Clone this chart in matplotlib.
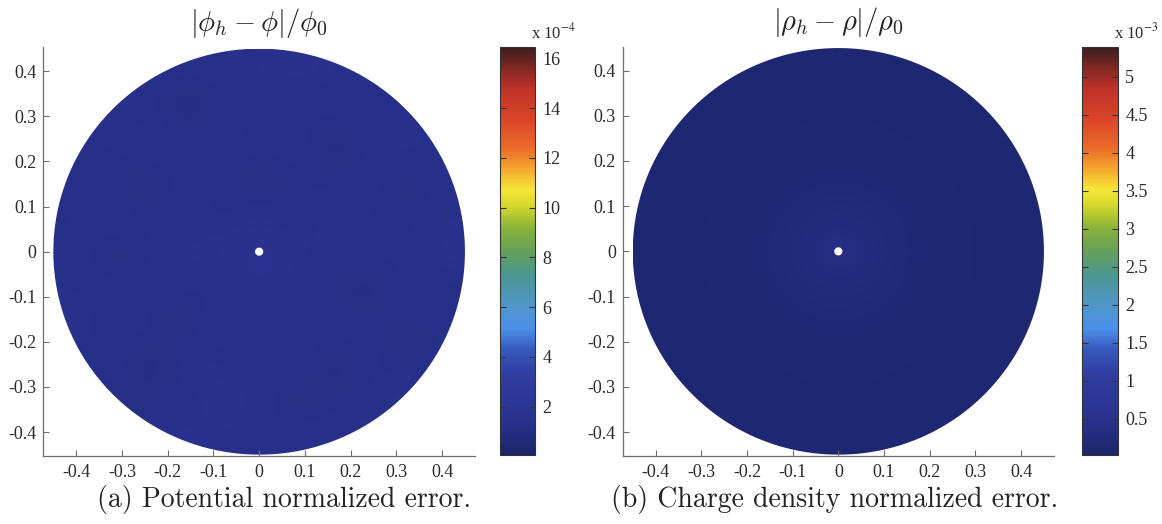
import numpy as np
import matplotlib
matplotlib.use("Agg")
import matplotlib.pyplot as plt
from matplotlib.colors import LinearSegmentedColormap
from matplotlib.path import Path
from matplotlib.patches import PathPatch
from matplotlib.ticker import FormatStrFormatter

plt.rcParams['font.family'] = 'Liberation Serif'
plt.rcParams['mathtext.fontset'] = 'cm'
plt.rcParams['axes.unicode_minus'] = False

# Geometry of the annular domain
DOMAIN_RADIUS = 0.45
HOLE_RADIUS = 0.009

# Normalized potential error on a coarse sampling grid (units of 1e-4)
phi_err = np.array([
    [1.3, 1.5, 1.1, 1.7, 1.3, 1.1, 1.5, 1.3, 1.7, 1.5, 1.3],
    [1.5, 0.9, 1.3, 1.1, 1.8, 1.5, 0.9, 1.3, 1.1, 1.7, 1.3],
    [1.1, 1.7, 0.8, 1.5, 1.3, 1.1, 1.7, 0.8, 1.5, 0.9, 1.5],
    [1.7, 1.1, 1.5, 0.9, 1.7, 1.3, 1.1, 1.5, 1.3, 1.1, 1.3],
    [1.3, 1.5, 1.1, 1.3, 1.1, 1.7, 1.3, 1.1, 0.9, 1.5, 1.1],
    [1.5, 0.9, 1.3, 1.7, 1.5, 1.8, 1.5, 1.3, 1.5, 1.1, 1.7],
    [1.1, 1.7, 1.1, 1.3, 1.1, 1.5, 1.1, 1.7, 1.1, 1.3, 1.3],
    [1.5, 1.3, 0.9, 1.5, 1.3, 0.9, 1.3, 1.1, 1.5, 0.9, 1.5],
    [1.3, 1.1, 1.7, 1.1, 1.7, 1.3, 1.5, 0.9, 1.3, 1.7, 1.1],
    [1.7, 1.5, 1.3, 0.9, 1.1, 1.5, 1.1, 1.5, 1.1, 1.3, 1.5],
    [1.3, 1.1, 1.5, 1.3, 1.5, 1.3, 1.7, 1.3, 1.5, 1.1, 1.3],
])

# Normalized charge density error on the same grid (units of 1e-3)
rho_err = np.array([
    [0.14, 0.15, 0.14, 0.15, 0.14, 0.15, 0.14, 0.15, 0.14, 0.15, 0.14],
    [0.15, 0.14, 0.15, 0.14, 0.15, 0.14, 0.15, 0.14, 0.15, 0.14, 0.15],
    [0.14, 0.15, 0.14, 0.15, 0.15, 0.16, 0.15, 0.15, 0.14, 0.15, 0.14],
    [0.15, 0.14, 0.15, 0.16, 0.17, 0.18, 0.17, 0.16, 0.15, 0.14, 0.15],
    [0.14, 0.15, 0.15, 0.17, 0.22, 0.26, 0.22, 0.17, 0.15, 0.15, 0.14],
    [0.15, 0.14, 0.16, 0.18, 0.26, 0.45, 0.26, 0.18, 0.16, 0.14, 0.15],
    [0.14, 0.15, 0.15, 0.17, 0.22, 0.26, 0.22, 0.17, 0.15, 0.15, 0.14],
    [0.15, 0.14, 0.15, 0.16, 0.17, 0.18, 0.17, 0.16, 0.15, 0.14, 0.15],
    [0.14, 0.15, 0.14, 0.15, 0.15, 0.16, 0.15, 0.15, 0.14, 0.15, 0.14],
    [0.15, 0.14, 0.15, 0.14, 0.15, 0.14, 0.15, 0.14, 0.15, 0.14, 0.15],
    [0.14, 0.15, 0.14, 0.15, 0.14, 0.15, 0.14, 0.15, 0.14, 0.15, 0.14],
])

phi_clim = (0.05, 16.45)
rho_clim = (0.024, 5.39)
phi_ticks = [2, 4, 6, 8, 10, 12, 14, 16]
rho_ticks = [0.5, 1, 1.5, 2, 2.5, 3, 3.5, 4, 4.5, 5]
axis_ticks = [-0.4, -0.3, -0.2, -0.1, 0, 0.1, 0.2, 0.3, 0.4]

# Jet-like colour ramp
ramp = [
    (0.00, (28, 36, 105)), (0.05, (35, 45, 128)), (0.10, (42, 52, 145)),
    (0.20, (48, 62, 160)), (0.26, (55, 90, 190)), (0.31, (75, 145, 235)),
    (0.37, (80, 150, 200)), (0.44, (75, 150, 145)), (0.50, (100, 160, 90)),
    (0.56, (140, 180, 55)), (0.61, (210, 215, 45)), (0.65, (245, 232, 55)),
    (0.70, (245, 170, 45)), (0.75, (235, 110, 40)), (0.82, (220, 70, 40)),
    (0.90, (190, 50, 40)), (0.95, (130, 40, 35)), (1.00, (60, 30, 30)),
]
cmap = LinearSegmentedColormap.from_list(
    "jetlike", [(p, tuple(c / 255 for c in rgb)) for p, rgb in ramp])


def annulus(r_out, r_in, n=400):
    t = np.linspace(0, 2 * np.pi, n)
    outer = np.column_stack([r_out * np.cos(t), r_out * np.sin(t)])
    inner = np.column_stack([r_in * np.cos(t[::-1]), r_in * np.sin(t[::-1])])
    verts = np.vstack([outer, inner])
    codes = ([Path.MOVETO] + [Path.LINETO] * (n - 1)) * 2
    return Path(verts, codes)


W, H = 1162, 524
fig = plt.figure(figsize=(W / 100, H / 100), dpi=100)

spine_col = '#6e6e6e'
text_col = '#2a2a2a'


def panel(ax_px, cax_px, field, clim, ticks, exponent, title, caption, cap_x):
    ax = fig.add_axes([ax_px[0] / W, 1 - ax_px[3] / H,
                       (ax_px[2] - ax_px[0]) / W, (ax_px[3] - ax_px[1]) / H])
    cax = fig.add_axes([cax_px[0] / W, 1 - cax_px[3] / H,
                        (cax_px[2] - cax_px[0]) / W, (cax_px[3] - cax_px[1]) / H])
    R = DOMAIN_RADIUS
    im = ax.imshow(field, extent=[-R, R, -R, R], origin='lower', cmap=cmap,
                   vmin=clim[0], vmax=clim[1], interpolation='bicubic',
                   aspect='auto')
    clip = PathPatch(annulus(R, HOLE_RADIUS), transform=ax.transData,
                     facecolor='none', edgecolor='none')
    ax.add_patch(clip)
    im.set_clip_path(clip)
    ax.set_xlim(-0.472, 0.472)
    ax.set_ylim(-0.453, 0.453)
    ax.set_xticks(axis_ticks)
    ax.set_yticks(axis_ticks)
    ax.xaxis.set_major_formatter(FormatStrFormatter('%g'))
    ax.yaxis.set_major_formatter(FormatStrFormatter('%g'))
    for s in ('top', 'right'):
        ax.spines[s].set_visible(False)
    for s in ('left', 'bottom'):
        ax.spines[s].set_color(spine_col)
        ax.spines[s].set_linewidth(0.9)
    ax.tick_params(axis='x', direction='in', length=4, width=0.8,
                   color=spine_col, labelsize=13, labelcolor=text_col, pad=6)
    ax.tick_params(axis='y', direction='in', length=4, width=0.8,
                   color=spine_col, labelsize=13, labelcolor=text_col, pad=5)
    ax.set_title(title, fontsize=20.5, pad=12, color='#222222')

    cb = fig.colorbar(im, cax=cax, ticks=ticks)
    cb.outline.set_linewidth(0.8)
    cb.outline.set_edgecolor('#333333')
    cax.yaxis.set_major_formatter(FormatStrFormatter('%g'))
    cax.tick_params(direction='in', left=True, right=True, length=4,
                    width=0.8, color='#333333', labelsize=13,
                    labelcolor=text_col, pad=5)
    cax.text(0.88, 1.012, r'x 10$^{%d}$' % exponent, transform=cax.transAxes,
             ha='left', va='bottom', fontsize=12, color=text_col,
             math_fontfamily='stix')

    fig.text(cap_x / W, 1 - 500 / H, caption, family='cmr10', fontsize=20,
             ha='center', va='center', color='#222222')


panel((43.3, 47.3, 475.0, 456.0), (500.0, 47.3, 535.3, 455.0),
      phi_err, phi_clim, phi_ticks, -4,
      r'$|\phi_h - \phi|/\phi_0$', '(a) Potential normalized error.', 284)
panel((622.7, 46.7, 1054.0, 456.0), (1081.7, 47.3, 1118.3, 455.0),
      rho_err, rho_clim, rho_ticks, -3,
      r'$|\rho_h - \rho|/\rho_0$', '(b) Charge density normalized error.', 835)

fig.savefig('out.png', dpi=100)
